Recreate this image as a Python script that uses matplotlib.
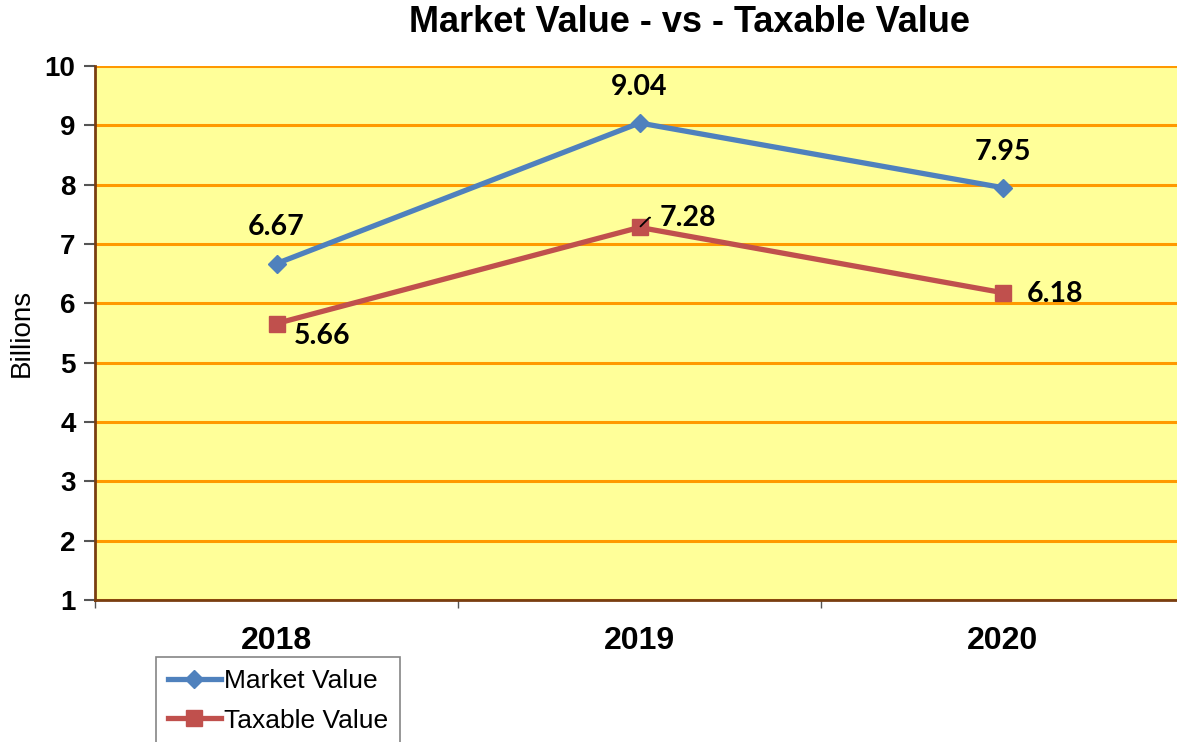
import matplotlib
matplotlib.use("Agg")
import matplotlib.pyplot as plt
from matplotlib.lines import Line2D

years = ["2018", "2019", "2020"]
market_value = [6.67, 9.04, 7.95]
taxable_value = [5.66, 7.28, 6.18]
y_ticks = [1, 2, 3, 4, 5, 6, 7, 8, 9, 10]

W, H = 1177, 742
fig = plt.figure(figsize=(W / 100, H / 100), dpi=100)
ax = fig.add_axes([95 / W, 142 / H, 1089 / W, 534 / H])
ax.set_facecolor("#FFFF99")

x = list(range(len(years)))
blue = "#4F81BD"
red = "#C0504D"

ax.set_xlim(-0.5, 2.5)
ax.set_ylim(1, 10)
ax.set_yticks(y_ticks)
ax.set_yticklabels([str(t) for t in y_ticks], fontsize=20, fontweight="bold",
                   family="Liberation Sans")
ax.set_xticks(x)
ax.set_xticklabels(years, fontsize=23, fontweight="bold", family="Liberation Sans")
ax.set_xticks([-0.5, 0.5, 1.5, 2.5], minor=True)
ax.tick_params(axis="x", which="major", length=0, pad=19)
ax.tick_params(axis="x", which="minor", length=6, width=1, color="#555555", direction="out")
ax.tick_params(axis="y", length=8, width=1.5, color="#555555", pad=6)

ax.grid(axis="y", color="#FF9900", linewidth=2.2, zorder=1)
ax.set_axisbelow(True)
for s in ["top", "right"]:
    ax.spines[s].set_visible(False)
ax.spines["left"].set_color("#7A3E10")
ax.spines["left"].set_linewidth(2)
ax.spines["bottom"].set_color("#7A3E10")
ax.spines["bottom"].set_linewidth(2)

ax.plot(x, market_value, color=blue, lw=3.8, marker="D", markersize=9,
        markerfacecolor=blue, markeredgecolor=blue, zorder=3)
ax.plot(x, taxable_value, color=red, lw=3.8, marker="s", markersize=12,
        markerfacecolor=red, markeredgecolor=red, zorder=3)

lab_kw = dict(fontsize=20.5, fontweight="bold", family="Lato", textcoords="offset points",
              ha="center", va="center", zorder=5)
for xi, v in zip(x, market_value):
    ax.annotate(f"{v:.2f}", xy=(xi, v), xytext=(0, 26), **lab_kw)

tax_offsets = [(33, -9), (35, 7), (38, -1)]
for i, (xi, v) in enumerate(zip(x, taxable_value)):
    dx, dy = tax_offsets[i]
    if i == 1:
        ax.annotate(f"{v:.2f}", xy=(xi, v), xytext=(dx, dy),
                    arrowprops=dict(arrowstyle="-", color="black", lw=1.3,
                                    shrinkA=5, shrinkB=1, relpos=(0, 0.5),
                                    connectionstyle="angle,angleA=0,angleB=45,rad=0"),
                    **lab_kw)
    else:
        ax.annotate(f"{v:.2f}", xy=(xi, v), xytext=(dx, dy), **lab_kw)

ax.set_ylabel("Billions", fontsize=20, family="Liberation Sans", labelpad=7)

fig.text(689 / W, 1 - 22 / H, "Market Value - vs - Taxable Value", ha="center", va="center",
         fontsize=26, fontweight="bold", family="Liberation Sans")

handles = [
    Line2D([], [], color=blue, lw=3.8, marker="D", markersize=9),
    Line2D([], [], color=red, lw=3.8, marker="s", markersize=12),
]
leg = fig.legend(handles, ["Market Value", "Taxable Value"], loc="upper left",
                 bbox_to_anchor=(156 / W, 1 - 657 / H), frameon=True, fancybox=False,
                 prop={"family": "Liberation Sans", "size": 19}, handlelength=2.0,
                 handletextpad=0.12, borderpad=0.45, labelspacing=0.6, borderaxespad=0)
leg.get_frame().set_edgecolor("#666666")
leg.get_frame().set_linewidth(1.2)

fig.savefig("out.png", dpi=100)
